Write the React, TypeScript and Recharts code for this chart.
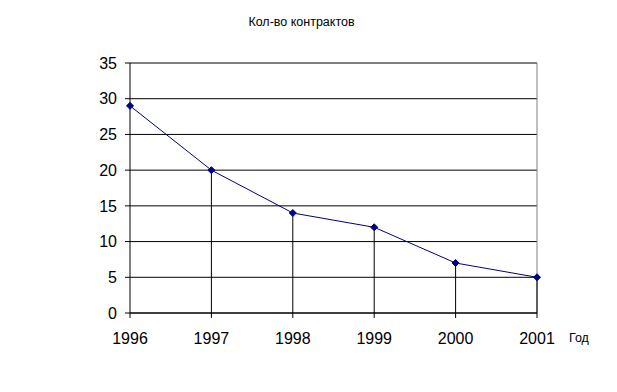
import React from "react";
import {
  LineChart,
  Line,
  XAxis,
  YAxis,
  CartesianGrid,
  ReferenceLine,
} from "recharts";

const years = ["1996", "1997", "1998", "1999", "2000", "2001"];
const contracts = [29, 20, 14, 12, 7, 5];
const yTicks = [0, 5, 10, 15, 20, 25, 30, 35];

const data = years.map((year, i) => ({ year, value: contracts[i] }));

const font = "'Liberation Sans', Arial, sans-serif";

function Diamond(props: any) {
  const { cx, cy } = props;
  if (cx == null || cy == null) return null;
  const r = 3.5;
  return (
    <polygon
      points={`${cx},${cy - r} ${cx + r},${cy} ${cx},${cy + r} ${cx - r},${cy}`}
      fill="#000080"
      stroke="#000080"
    />
  );
}

export default function App() {
  return (
    <div
      style={{
        position: "absolute",
        left: 0,
        top: 0,
        width: 617,
        height: 392,
        background: "#fff",
        fontFamily: font,
      }}
    >
      <div
        style={{
          position: "absolute",
          left: 0,
          width: 603,
          top: 15,
          textAlign: "center",
          fontSize: 12.5,
          color: "#000",
        }}
      >
        Кол-во контрактов
      </div>
      <div
        style={{
          position: "absolute",
          left: 569,
          top: 331,
          fontSize: 12.5,
          color: "#000",
        }}
      >
        Год
      </div>
      <LineChart
        width={617}
        height={392}
        data={data}
        margin={{ top: 63, right: 80, bottom: 49, left: 90 }}
      >
        <CartesianGrid vertical={false} stroke="#000" strokeOpacity={1} />
        <ReferenceLine y={35} stroke="#808080" ifOverflow="extendDomain" />
        <ReferenceLine x="2001" stroke="#808080" />
        {data.slice(1).map((d) => (
          <ReferenceLine
            key={d.year}
            segment={[
              { x: d.year, y: 0 },
              { x: d.year, y: d.value },
            ]}
            stroke="#000"
          />
        ))}
        <XAxis
          dataKey="year"
          height={30}
          stroke="#000"
          tickSize={5}
          tickMargin={15}
          tick={{ fill: "#000", fontSize: 16, fontFamily: font }}
          interval={0}
        />
        <YAxis
          width={40}
          domain={[0, 35]}
          ticks={yTicks}
          stroke="#000"
          tickSize={5}
          tickMargin={8}
          tick={{ fill: "#000", fontSize: 16, fontFamily: font }}
        />
        <Line
          type="linear"
          dataKey="value"
          stroke="#000080"
          strokeWidth={1}
          dot={<Diamond />}
          isAnimationActive={false}
        />
      </LineChart>
    </div>
  );
}
